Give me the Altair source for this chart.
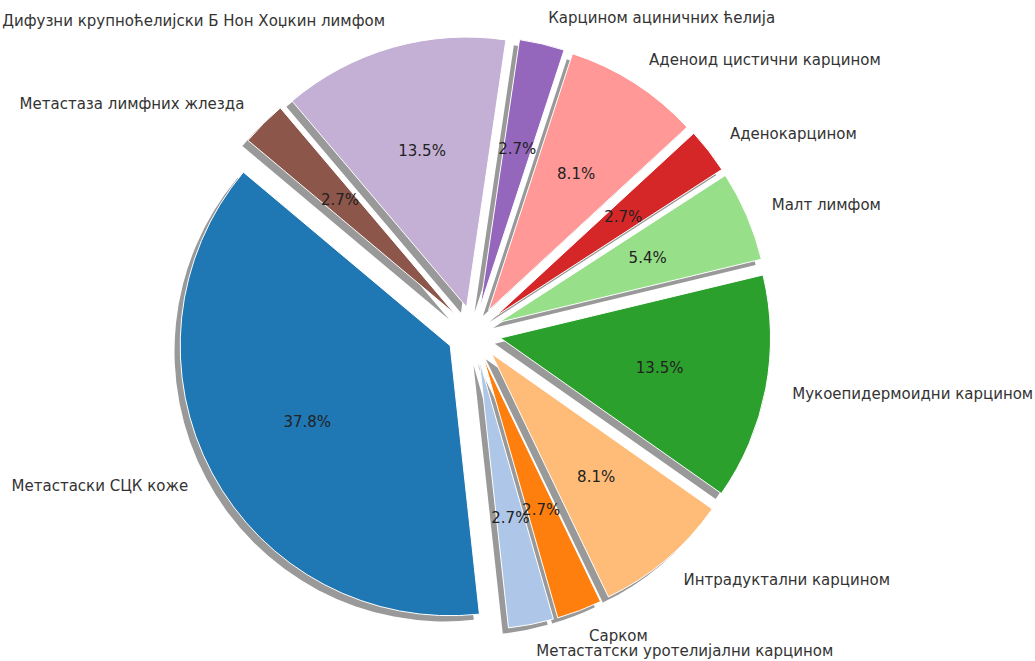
import altair as alt
import pandas as pd

categories = [
    "Метастаски СЦК коже",
    "Метастатски уротелијални карцином",
    "Сарком",
    "Интрадуктални карцином",
    "Мукоепидермоидни карцином",
    "Малт лимфом",
    "Аденокарцином",
    "Аденоид цистични карцином",
    "Карцином ациничних ћелија",
    "Дифузни крупноћелијски Б Нон Хоџкин лимфом",
    "Метастаза лимфних жлезда",
]
counts = [14, 1, 1, 3, 5, 2, 1, 3, 1, 5, 1]
colors = ["#1f77b4", "#aec7e8", "#ff7f0e", "#ffbb78", "#2ca02c", "#98df8a",
          "#d62728", "#ff9896", "#9467bd", "#c5b0d5", "#8c564b"]

df = pd.DataFrame({
    "category": categories,
    "count": counts,
    "order": list(range(len(categories))),
    "color": colors,
})

R = 270
W, H = 1035, 661
CX, CY = 474, 333

base = alt.Chart(df).transform_joinaggregate(
    total="sum(count)"
).transform_window(
    cum="sum(count)", sort=[alt.SortField("order")], frame=[None, 0]
).transform_calculate(
    a0="140 + 360*(datum.cum - datum.count)/datum.total",
    a1="140 + 360*datum.cum/datum.total",
).transform_calculate(
    m="(datum.a0 + datum.a1)/2*PI/180",
    t0="(90 - datum.a0)*PI/180",
    t1="(90 - datum.a1)*PI/180",
    frac="datum.count/datum.total",
).transform_calculate(
    ex="0.1*cos(datum.m)",
    ey="0.1*sin(datum.m)",
    sx="0.1*cos(datum.m) - 0.021",
    sy="0.1*sin(datum.m) - 0.021",
    lx="1.2*cos(datum.m)",
    ly="1.2*sin(datum.m)",
    px="0.7*cos(datum.m)",
    py="0.7*sin(datum.m)",
    right="cos(datum.m) > 0",
)

xs = alt.Scale(domain=[-CX / R, (W - CX) / R], range=[0, W], zero=False, nice=False)
ys = alt.Scale(domain=[-(H - CY) / R, CY / R], range=[H, 0], zero=False, nice=False)

shadow = base.mark_arc(radius=R, color="#999999").encode(
    x=alt.X("sx:Q", scale=xs, axis=None),
    y=alt.Y("sy:Q", scale=ys, axis=None),
    theta=alt.Theta("t0:Q", scale=None),
    theta2="t1:Q",
)

wedges = base.mark_arc(radius=R, stroke="white", strokeWidth=1).encode(
    x=alt.X("ex:Q", scale=xs, axis=None),
    y=alt.Y("ey:Q", scale=ys, axis=None),
    theta=alt.Theta("t0:Q", scale=None),
    theta2="t1:Q",
    fill=alt.Fill("color:N", scale=None),
)

font = "DejaVu Sans"
FS = 15
labels_r = base.transform_filter("datum.right").mark_text(
    align="left", baseline="middle", font=font, fontSize=FS, color="#333333"
).encode(
    x=alt.X("lx:Q", scale=xs, axis=None),
    y=alt.Y("ly:Q", scale=ys, axis=None),
    text="category:N",
)
labels_l = base.transform_filter("!datum.right").mark_text(
    align="right", baseline="middle", font=font, fontSize=FS, color="#333333"
).encode(
    x=alt.X("lx:Q", scale=xs, axis=None),
    y=alt.Y("ly:Q", scale=ys, axis=None),
    text="category:N",
)
pct = base.mark_text(
    align="center", baseline="middle", font=font, fontSize=FS, color="#222222"
).encode(
    x=alt.X("px:Q", scale=xs, axis=None),
    y=alt.Y("py:Q", scale=ys, axis=None),
    text=alt.Text("frac:Q", format=".1%"),
)

chart = alt.layer(shadow, wedges, pct, labels_r, labels_l).properties(
    width=W, height=H, padding=0, autosize=alt.AutoSizeParams(type="none"),
    background="white",
).configure_view(stroke=None)

chart.save("out.html", embed_options={"renderer": "svg", "actions": False})
